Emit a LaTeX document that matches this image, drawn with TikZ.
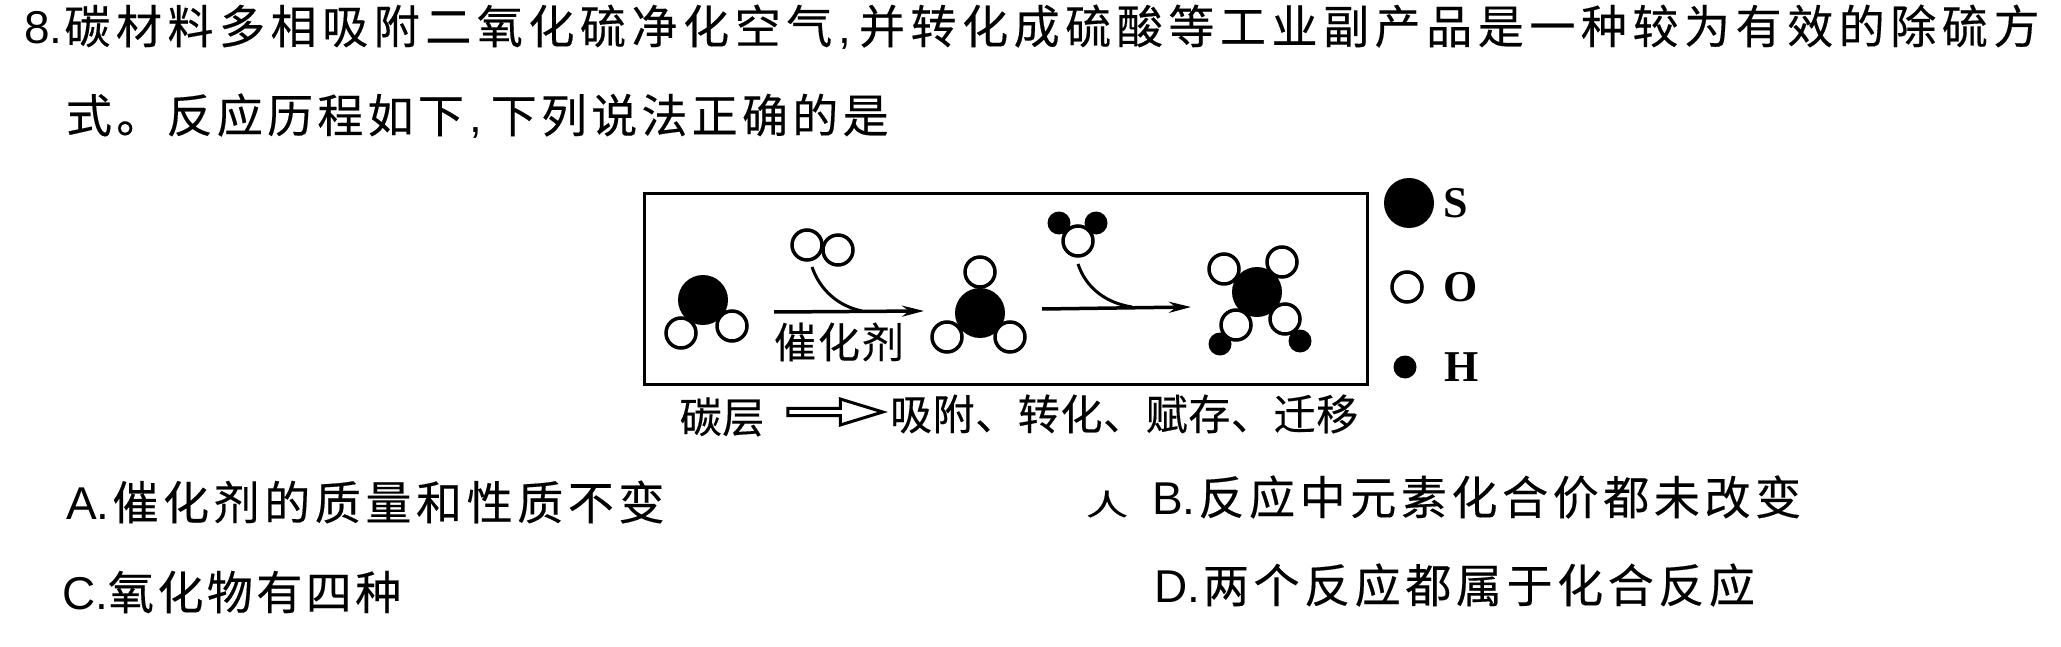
\documentclass[tikz,border=0pt]{standalone}
\usepackage{fontspec}
\setmainfont{Liberation Sans}
\newfontfamily\cjk{Noto Sans CJK SC}
\newfontfamily\legendfont{Liberation Serif}
\usetikzlibrary{
        arrows.meta,
        positioning,
        shapes.arrows
    }
\newcommand{\stemfont}{\fontsize{46}{46}\selectfont\cjk\addfontfeature{LetterSpace=12.1,FakeBold=0.35}}
\newcommand{\choicefont}{\fontsize{46}{46}\selectfont\cjk\addfontfeature{LetterSpace=10,FakeBold=0.35}}
\newcommand{\figfont}{\fontsize{42}{42}\selectfont\cjk\addfontfeature{LetterSpace=1.5,FakeBold=0.35}}
\tikzset{>={Stealth[length=22pt,width=11pt]},x=1pt,y=-1pt,inner sep=0pt,outer sep=0pt}
\tikzset{
    atomS/.style={circle,fill=black,minimum size=50pt},
    atomO/.style={circle,draw=black,line width=3.5pt,fill=white,minimum size=30pt},
    atomH/.style={circle,fill=black,minimum size=23pt},
    line/.style={anchor=west,font=\stemfont},
    choice/.style={anchor=west,font=\choicefont},
    figtext/.style={font=\figfont},
    legendtext/.style={font=\fontsize{44}{44}\selectfont\legendfont\bfseries}
}

\begin{document}
\begin{tikzpicture}
                    \useasboundingbox (0,0) rectangle (2061,647);
                    % question text
                    \node[line] (l1) at (24,27) {{\rmfamily 8.}\kern2pt 碳材料多相吸附二氧化硫净化空气{\rmfamily\kern6pt,\kern8pt}并转化成硫酸等工业副产品是一种较为有效的除硫方};
                    \node[line] (l2) at (66,116) {\addfontfeature{LetterSpace=9.3}式。反应历程如下{\rmfamily\kern6pt,\kern8pt}下列说法正确的是};
                    % frame
                    \node[draw,line width=3pt,minimum width=723pt,minimum height=191pt] (frame) at (1005.5,289) {};
                    % first molecule
                    \node[atomO] (o1) at (681,333) {};
                    \node[atomO] (o2) at (732,326) {};
                    \node[atomS] (s1) at (703,300) {};
                    % oxygen over the first arrow
                    \node[atomO] (o3) at (807,245) {};
                    \node[atomO] (o4) at (838,250) {};
                    % second molecule
                    \node[atomO] (o5) at (980,272) {};
                    \node[atomO] (o6) at (947,337) {};
                    \node[atomO] (o7) at (1010,337) {};
                    \node[atomS] (s2) at (980,313) {};
                    % water over the second arrow
                    \node[atomH] (h1) at (1059,223) {};
                    \node[atomH] (h2) at (1096,223) {};
                    \node[atomO] (o8) at (1078,241) {};
                    % third molecule
                    \node[atomO] (o9) at (1224,269) {};
                    \node[atomO] (o10) at (1282,262) {};
                    \node[atomO] (o11) at (1236,325) {};
                    \node[atomO] (o12) at (1285,319) {};
                    \node[atomS] (s3) at (1257,292) {};
                    \node[atomH] (h3) at (1220,344) {};
                    \node[atomH] (h4) at (1300,341) {};
                    % arrows
                    \coordinate (a1) at (774,312);
                    \coordinate (b1) at (924,311);
                    \coordinate (c1) at (812,267);
                    \coordinate (d1) at (862,311);
                    \coordinate (a2) at (1042,309);
                    \coordinate (b2) at (1191,307);
                    \coordinate (c2) at (1078,264);
                    \coordinate (d2) at (1132,307);
                    \path[->,line width=3.5pt]
                        (a1) edge (b1)
                        (a2) edge (b2)
                    ;
                    \draw[line width=3pt] (c1) .. controls (820,290) and (838,306) .. (d1);
                    \draw[line width=3pt] (c2) .. controls (1086,288) and (1106,303) .. (d2);
                    \node[figtext] (cat) at (839,342) {\addfontfeature{LetterSpace=4.5}催化剂};
                    % legend
                    \node[atomS] (ls) at (1409,203) {};
                    \node[atomO] (lo) at (1407,287) {};
                    \node[atomH] (lh) at (1405,367) {};
                    \node[legendtext] (ts) at (1456,203) {S};
                    \node[legendtext] (to) at (1461,287) {O};
                    \node[legendtext] (th) at (1462,367) {H};
                    % caption
                    \node[figtext] (carbon) at (722,417) {碳层};
                    \node[single arrow,draw,line width=3pt,fill=white,minimum height=95pt,minimum width=26pt,single arrow head extend=4pt,single arrow tip angle=34] (hollow) at (829.5,412) {};
                    \node[figtext,anchor=west] (steps) at (890,414) {吸附、转化、赋存、迁移};
                    % choices
                    \node[choice] (ca) at (66,502) {{\rmfamily A.}\kern3pt 催化剂的质量和性质不变};
                    \node[choice] (cb) at (1152,497) {{\rmfamily B.}\kern3pt 反应中元素化合价都未改变};
                    \node[choice] (cc) at (62,592) {\addfontfeature{LetterSpace=7.5}{\rmfamily C.}氧化物有四种};
                    \node[choice] (cd) at (1154,585) {{\rmfamily D.}\kern3pt 两个反应都属于化合反应};
                    \node[figtext,yscale=.7,transform shape] (mark) at (1107,504) {人};
                \end{tikzpicture}
\end{document}
